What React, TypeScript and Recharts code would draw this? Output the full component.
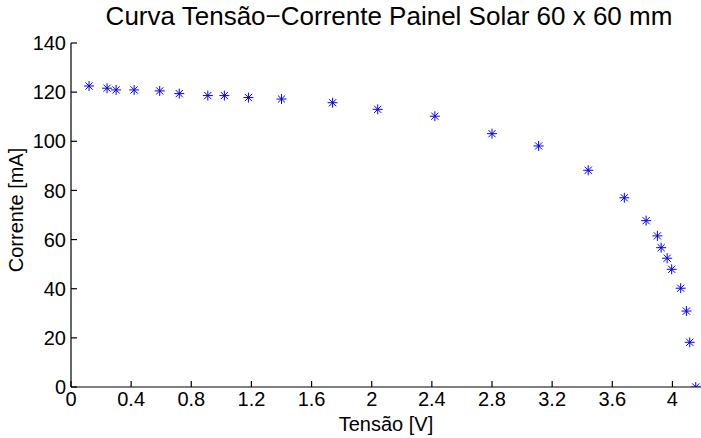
import React from 'react';
import { ScatterChart, Scatter, XAxis, YAxis } from 'recharts';

// Tensão [V] measured on the panel
const voltage = [
    0.12, 0.24, 0.3, 0.42, 0.59, 0.72, 0.91, 1.02, 1.18, 1.4, 1.74, 2.04, 2.42,
    2.8, 3.11, 3.44, 3.68, 3.825, 3.9, 3.925, 3.965, 3.995, 4.055, 4.093, 4.115, 4.155,
];

// Corrente [mA] for each voltage
const current = [
    122.5, 121.6, 120.9, 120.9, 120.5, 119.4, 118.6, 118.6, 117.8, 117.2, 115.7, 113.0, 110.2,
    103.1, 98.1, 88.2, 77.0, 67.7, 61.5, 56.7, 52.4, 47.9, 40.2, 30.9, 18.2, 0,
];

const xTicks = [0, 0.4, 0.8, 1.2, 1.6, 2, 2.4, 2.8, 3.2, 3.6, 4];
const yTicks = [0, 20, 40, 60, 80, 100, 120, 140];

const title = 'Curva Tensão−Corrente Painel Solar 60 x 60 mm';
const xLabel = 'Tensão [V]';
const yLabel = 'Corrente [mA]';

const FONT = '"Liberation Sans", Arial, Helvetica, sans-serif';

const data = voltage.map((v, i) => ({ v, i: current[i] }));

// MATLAB style '*' marker: plus and cross together
const Asterisk = (props: any) => {
    const { cx, cy } = props;
    if (cx == null || cy == null) return null;
    const r = 5;
    const d = 3.6;
    return (
        <g stroke="#0000ff" strokeWidth={1}>
            <line x1={cx - r} y1={cy} x2={cx + r} y2={cy} />
            <line x1={cx} y1={cy - r} x2={cx} y2={cy + r} />
            <line x1={cx - d} y1={cy - d} x2={cx + d} y2={cy + d} />
            <line x1={cx - d} y1={cy + d} x2={cx + d} y2={cy - d} />
        </g>
    );
};

export default function App() {
    const tickStyle = { fill: '#000', fontSize: 20, fontFamily: FONT };
    const axisLine = { stroke: '#000', strokeWidth: 1.2 };

    return (
        <div style={{ position: 'absolute', left: 0, top: 0, width: 701, height: 438, background: '#fff' }}>
            <div
                style={{
                    position: 'absolute',
                    left: 71,
                    top: 3,
                    width: 636,
                    textAlign: 'center',
                    fontFamily: FONT,
                    fontSize: 26,
                    lineHeight: '26px',
                    color: '#000',
                    whiteSpace: 'nowrap',
                }}
            >
                {title}
            </div>
            <ScatterChart width={701} height={438} margin={{ top: 43, right: 0, bottom: 0, left: 0 }}>
                <XAxis
                    type="number"
                    dataKey="v"
                    domain={[0, 4.19]}
                    ticks={xTicks}
                    allowDataOverflow
                    height={51}
                    tickSize={-6}
                    tickMargin={11}
                    tick={tickStyle}
                    tickLine={axisLine}
                    axisLine={axisLine}
                    label={{ value: xLabel, position: 'insideBottom', offset: 7, fill: '#000', fontSize: 20, fontFamily: FONT }}
                />
                <XAxis
                    xAxisId="top"
                    orientation="top"
                    type="number"
                    domain={[0, 4.19]}
                    ticks={xTicks}
                    allowDataOverflow
                    height={0}
                    tickSize={-6}
                    tick={false}
                    tickLine={axisLine}
                    axisLine={axisLine}
                />
                <YAxis
                    type="number"
                    dataKey="i"
                    domain={[0, 140]}
                    ticks={yTicks}
                    allowDataOverflow
                    width={71}
                    tickSize={-6}
                    tickMargin={11}
                    tick={tickStyle}
                    tickLine={axisLine}
                    axisLine={axisLine}
                    label={{ value: yLabel, angle: -90, position: 'center', dx: -19.5, dy: -5, fill: '#000', fontSize: 20, fontFamily: FONT }}
                />
                <YAxis
                    yAxisId="right"
                    orientation="right"
                    type="number"
                    domain={[0, 140]}
                    ticks={yTicks}
                    allowDataOverflow
                    width={0}
                    tickSize={-6}
                    tick={false}
                    tickLine={axisLine}
                    axisLine={axisLine}
                />
                <Scatter data={data} shape={<Asterisk />} isAnimationActive={false} />
            </ScatterChart>
        </div>
    );
}
